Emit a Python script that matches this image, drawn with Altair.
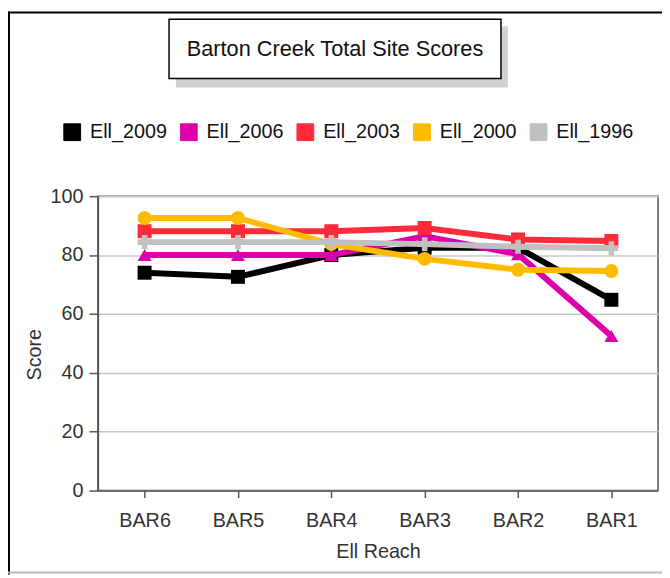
import altair as alt
import pandas as pd

reaches = ["BAR6", "BAR5", "BAR4", "BAR3", "BAR2", "BAR1"]
series = ["Ell_2009", "Ell_2006", "Ell_2003", "Ell_2000", "Ell_1996"]
ell_2009 = [74.0, 72.6, 80.0, 82.5, 82.5, 64.8]
ell_2006 = [80.0, 80.0, 80.0, 86.4, 80.3, 52.5]
ell_2003 = [88.1, 88.1, 88.1, 89.2, 85.3, 84.8]
ell_2000 = [92.6, 92.6, 83.7, 78.7, 75.0, 74.6]
ell_1996 = [84.4, 84.4, 84.4, 83.7, 82.8, 82.3]
values = [ell_2009, ell_2006, ell_2003, ell_2000, ell_1996]

colors = ["#000000", "#dd00aa", "#ff2a3a", "#ffbb00", "#c0c0c0"]
shapes = ["square", "triangle-up", "square", "circle", "cross"]
title_text = "Barton Creek Total Site Scores"
FONT = "Liberation Sans"

rows = []
for s, vals in zip(series, values):
    for r, v in zip(reaches, vals):
        rows.append({"series": s, "reach": r, "score": v})
df = pd.DataFrame(rows)

x_enc = alt.X("reach:N", sort=reaches, scale=alt.Scale(domain=reaches),
              axis=alt.Axis(title="Ell Reach", labelAngle=0, tickSize=7,
                            labelPadding=13, titleY=62, titleBaseline="middle",
                            grid=False))
y_enc = alt.Y("score:Q", scale=alt.Scale(domain=[0, 100], nice=False),
              axis=alt.Axis(title="Score", values=[0, 20, 40, 60, 80, 100],
                            tickSize=9, labelPadding=6, titleX=-64, titleY=160,
                            titleAngle=270, titleAlign="center",
                            titleBaseline="middle", grid=True))
legend = alt.Legend(title=None, orient="none", legendX=-36, legendY=-75,
                    direction="horizontal", symbolType="square", symbolSize=289,
                    symbolStrokeColor="black", symbolStrokeWidth=1,
                    symbolOpacity=1, labelFontSize=20, labelFont=FONT,
                    labelColor="#111", labelOffset=8, columnPadding=11,
                    padding=0)
color_scale = alt.Scale(domain=series, range=colors)

deco = pd.DataFrame({"t": [title_text]})
shadow = alt.Chart(deco).mark_rect(color="#d0d0d0").encode(
    x=alt.value(79), x2=alt.value(415), y=alt.value(-172), y2=alt.value(-110))
box = alt.Chart(deco).mark_rect(fill="white", stroke="black", strokeWidth=1.5).encode(
    x=alt.value(72), x2=alt.value(408), y=alt.value(-179), y2=alt.value(-119))
title = alt.Chart(deco).mark_text(font=FONT, fontSize=22, color="#111",
                                  align="center", baseline="middle").encode(
    x=alt.value(240), y=alt.value(-149), text="t:N")
frame_top = alt.Chart(deco).mark_rule(color="black", strokeWidth=2).encode(
    x=alt.value(-91), x2=alt.value(580), y=alt.value(-186))
frame_left = alt.Chart(deco).mark_rule(color="black", strokeWidth=2).encode(
    x=alt.value(-90), y=alt.value(-187), y2=alt.value(383))
frame_bottom = alt.Chart(deco).mark_rule(color="#bbbbbb", strokeWidth=2).encode(
    x=alt.value(-91), x2=alt.value(580), y=alt.value(381))

layers = [frame_top, frame_left, frame_bottom, shadow, box, title]
for s, shp in zip(series, shapes):
    base = alt.Chart(df).transform_filter(alt.datum.series == s)
    line = base.mark_line(strokeWidth=6).encode(
        x=x_enc, y=y_enc,
        color=alt.Color("series:N", scale=color_scale, legend=legend))
    pts = base.mark_point(filled=True, shape=shp, size=200, opacity=1).encode(
        x=x_enc, y=y_enc,
        color=alt.Color("series:N", scale=color_scale, legend=legend))
    layers += [line, pts]

chart = alt.layer(*layers).properties(
    width=567, height=298,
    autosize=alt.AutoSizeParams(type="none"),
    padding={"left": 91, "top": 187, "right": 4, "bottom": 82},
).configure_view(stroke="#555", strokeWidth=1.5).configure_axis(
    labelFont=FONT, titleFont=FONT, labelFontSize=20, titleFontSize=20,
    labelColor="#333", titleColor="#333", titleFontWeight="normal",
    domainColor="#555", domainWidth=1.5, tickColor="#555", tickWidth=1.5,
    gridColor="#c8c8c8", gridWidth=1.5,
)

chart.save("out.html", embed_options={"renderer": "svg", "actions": False})
